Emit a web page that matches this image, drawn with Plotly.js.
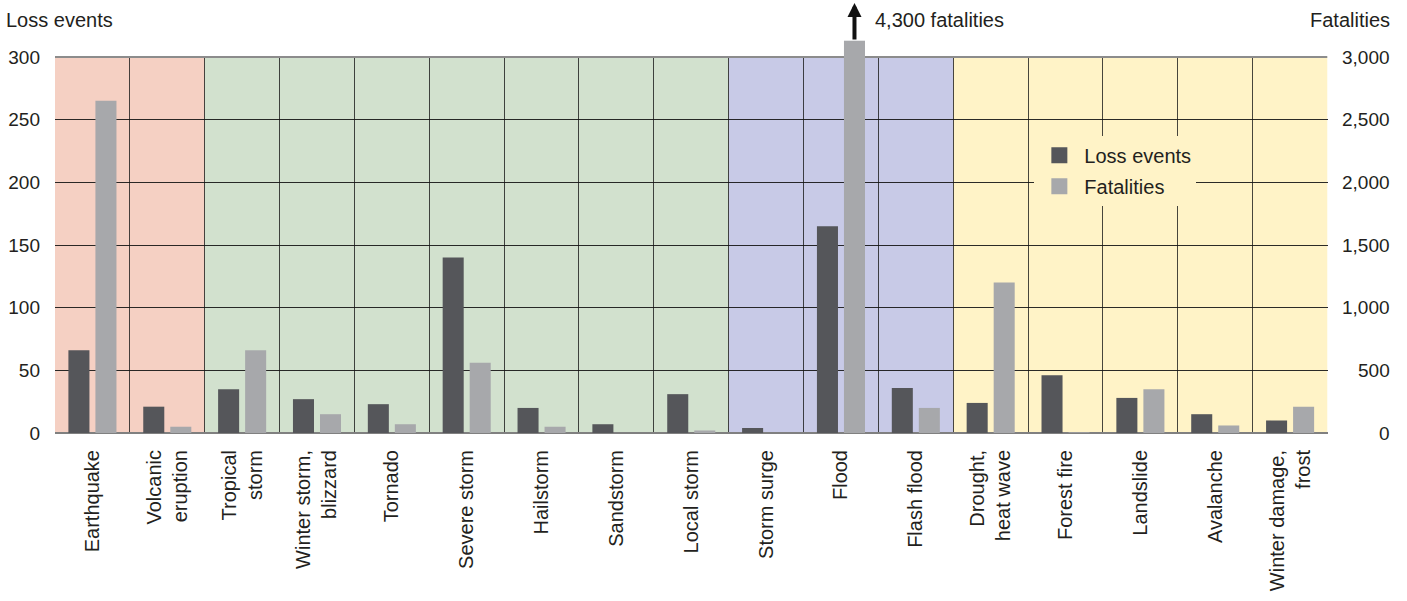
<!DOCTYPE html>
<html>
<head>
<meta charset="utf-8">
<script src="https://cdn.plot.ly/plotly-3.0.1.min.js"></script>
<style>
  html, body { margin: 0; padding: 0; background: #ffffff; }
  #chart { width: 1407px; height: 601px; }
</style>
</head>
<body>
<div id="chart"></div>
<script>
// ---- Data ----
const categories = [
  'Earthquake', 'Volcanic eruption', 'Tropical storm', 'Winter storm, blizzard',
  'Tornado', 'Severe storm', 'Hailstorm', 'Sandstorm', 'Local storm',
  'Storm surge', 'Flood', 'Flash flood', 'Drought, heat wave', 'Forest fire',
  'Landslide', 'Avalanche', 'Winter damage, frost'
];
const tickLabels = [
  'Earthquake', 'Volcanic<br>eruption', 'Tropical<br>storm', 'Winter storm,<br>blizzard',
  'Tornado', 'Severe storm', 'Hailstorm', 'Sandstorm', 'Local storm',
  'Storm surge', 'Flood', 'Flash flood', 'Drought,<br>heat wave', 'Forest fire',
  'Landslide', 'Avalanche', 'Winter damage,<br>frost'
];
const lossEvents = [66, 21, 35, 27, 23, 140, 20, 7, 31, 4, 165, 36, 24, 46, 28, 15, 10];
const fatalities = [2650, 50, 660, 150, 70, 560, 50, 0, 20, 0, 4300, 200, 1200, 5, 350, 60, 210];
// Bars beyond the axis are drawn broken at this height (with an arrow + label)
const fatalitiesCap = 3130;
const leftTicks = [0, 50, 100, 150, 200, 250, 300];
const rightTicks = [0, 500, 1000, 1500, 2000, 2500, 3000];
// Hazard families (background bands)
const groupNames = ['Geophysical', 'Meteorological', 'Hydrological', 'Climatological'];
const groupFirst = ['Earthquake', 'Tropical storm', 'Storm surge', 'Drought, heat wave'];
const groupLast = ['Volcanic eruption', 'Local storm', 'Flash flood', 'Winter damage, frost'];
const groupColors = ['#f5d0c3', '#d2e1ce', '#c8cae7', '#fff3c7'];

// ---- Styling ----
const FONT = 'Liberation Sans, Arial, Helvetica, sans-serif';
const TXT = '#231f20';
const LOSS_COLOR = '#55565a';
const FATAL_COLOR = '#a7a8ab';
const barW = 0.281;
const lossOffset = -0.321;
const fatalOffset = 0.04;
const y1Max = 300, y2Max = 3000;

const fatalShown = fatalities.map(v => Math.min(v, fatalitiesCap));

const traces = [
  {
    type: 'bar', name: 'Loss events', x: categories, y: lossEvents,
    marker: { color: LOSS_COLOR }, width: barW, offset: lossOffset,
    yaxis: 'y', showlegend: false
  },
  {
    type: 'bar', name: 'Fatalities', x: categories, y: fatalShown,
    marker: { color: FATAL_COLOR }, width: barW, offset: fatalOffset,
    yaxis: 'y2', showlegend: false
  },
  // legend entries (square swatches)
  {
    type: 'scatter', mode: 'markers', name: 'Loss events', x: [null], y: [null],
    marker: { symbol: 'square', size: 16, color: LOSS_COLOR }, legendgroup: 'a'
  },
  {
    type: 'scatter', mode: 'markers', name: 'Fatalities', x: [null], y: [null],
    marker: { symbol: 'square', size: 16, color: FATAL_COLOR }, legendgroup: 'b'
  }
];

const shapes = groupNames.map((g, i) => ({
  type: 'rect', xref: 'x', yref: 'paper',
  x0: categories.indexOf(groupFirst[i]) - 0.5,
  x1: categories.indexOf(groupLast[i]) + 0.5,
  y0: 0, y1: 1, fillcolor: groupColors[i], line: { width: 0 }, layer: 'below'
}));
// top frame line
shapes.push({
  type: 'line', xref: 'x', yref: 'paper', x0: -0.5, x1: categories.length - 0.5,
  y0: 1, y1: 1, line: { color: '#8c8c8c', width: 2 }, layer: 'above'
});
// part of off-scale bars that rises above the frame
fatalShown.forEach((v, i) => {
  if (v > y2Max) {
    shapes.push({
      type: 'rect', xref: 'x', yref: 'paper',
      x0: i + fatalOffset, x1: i + fatalOffset + barW,
      y0: 0.99, y1: v / y2Max, fillcolor: FATAL_COLOR, line: { width: 0 }, layer: 'above'
    });
  }
});

const plotL = 54.5, plotR = 1327.5, paperR = 1392, plotT = 57, plotB = 433.5;
const xDomainEnd = (plotR - plotL) / (paperR - plotL);
const catToPaper = c => (c + 0.5) / categories.length * xDomainEnd;

const floodIdx = categories.indexOf('Flood');
const floodFatalPaperX = catToPaper(floodIdx + fatalOffset + barW / 2);
const titleY = 1.098;

const annotations = [
  { xref: 'paper', yref: 'paper', x: -0.0378, y: titleY, xanchor: 'left', yanchor: 'middle',
    text: 'Loss events', showarrow: false, font: { family: FONT, size: 20, color: TXT } },
  { xref: 'paper', yref: 'paper', x: 1.0, y: titleY, xanchor: 'right', yanchor: 'middle',
    text: 'Fatalities', showarrow: false, font: { family: FONT, size: 20, color: TXT } },
  { xref: 'paper', yref: 'paper', x: floodFatalPaperX, xshift: 19, y: titleY, xanchor: 'left', yanchor: 'middle',
    text: fatalities[floodIdx].toLocaleString('en-US') + ' fatalities', showarrow: false,
    font: { family: FONT, size: 20, color: TXT } },
  { xref: 'paper', yref: 'paper', x: floodFatalPaperX, y: 1.1434,
    ax: 0, ay: 38, showarrow: true, arrowhead: 2, arrowsize: 0.7, arrowwidth: 4,
    arrowcolor: '#111', text: '' }
];
// right-aligned labels of the fatalities axis
rightTicks.forEach(t => annotations.push({
  xref: 'paper', yref: 'y2', x: 1.0, y: t, xanchor: 'right', yanchor: 'middle',
  text: t.toLocaleString('en-US'), showarrow: false,
  font: { family: FONT, size: 19, color: TXT }
}));

const layout = {
  width: 1407, height: 601,
  margin: { l: plotL, r: 1407 - paperR, t: plotT, b: 601 - plotB, pad: 0 },
  paper_bgcolor: '#ffffff', plot_bgcolor: '#ffffff',
  font: { family: FONT, color: TXT, size: 19 },
  barmode: 'overlay',
  showlegend: true,
  legend: {
    x: 0.7325, y: 0.7906, xanchor: 'left', yanchor: 'top',
    bgcolor: '#fff3c7', borderwidth: 0, itemwidth: 40, itemsizing: 'trace',
    font: { family: FONT, size: 20, color: TXT },
    traceorder: 'grouped', tracegroupgap: 2, itemclick: false
  },
  xaxis: {
    domain: [0, xDomainEnd],
    type: 'category', categoryorder: 'array', categoryarray: categories,
    range: [-0.5, categories.length - 0.5],
    tickvals: categories, ticktext: tickLabels, tickangle: -90,
    tickson: 'boundaries', ticks: '', showgrid: true,
    gridcolor: 'rgba(25,25,25,0.8)', gridwidth: 1,
    showline: false, zeroline: false, ticklabelstandoff: 12,
    tickfont: { family: FONT, size: 20, color: TXT }, fixedrange: true
  },
  yaxis: {
    range: [0, y1Max], tickvals: leftTicks, ticks: '',
    showgrid: true, gridcolor: 'rgba(20,20,20,0.9)', gridwidth: 1,
    zeroline: true, zerolinecolor: '#808080', zerolinewidth: 2,
    showline: false, ticklabelstandoff: 14,
    tickfont: { family: FONT, size: 19, color: TXT }, fixedrange: true
  },
  yaxis2: {
    range: [0, y2Max], tickvals: rightTicks, ticks: '', showticklabels: false,
    overlaying: 'y', side: 'right', anchor: 'free', position: 1,
    showgrid: false, zeroline: false, showline: false, fixedrange: true
  },
  shapes: shapes,
  annotations: annotations
};

Plotly.newPlot('chart', traces, layout, { displayModeBar: false, staticPlot: true });
</script>
</body>
</html>
